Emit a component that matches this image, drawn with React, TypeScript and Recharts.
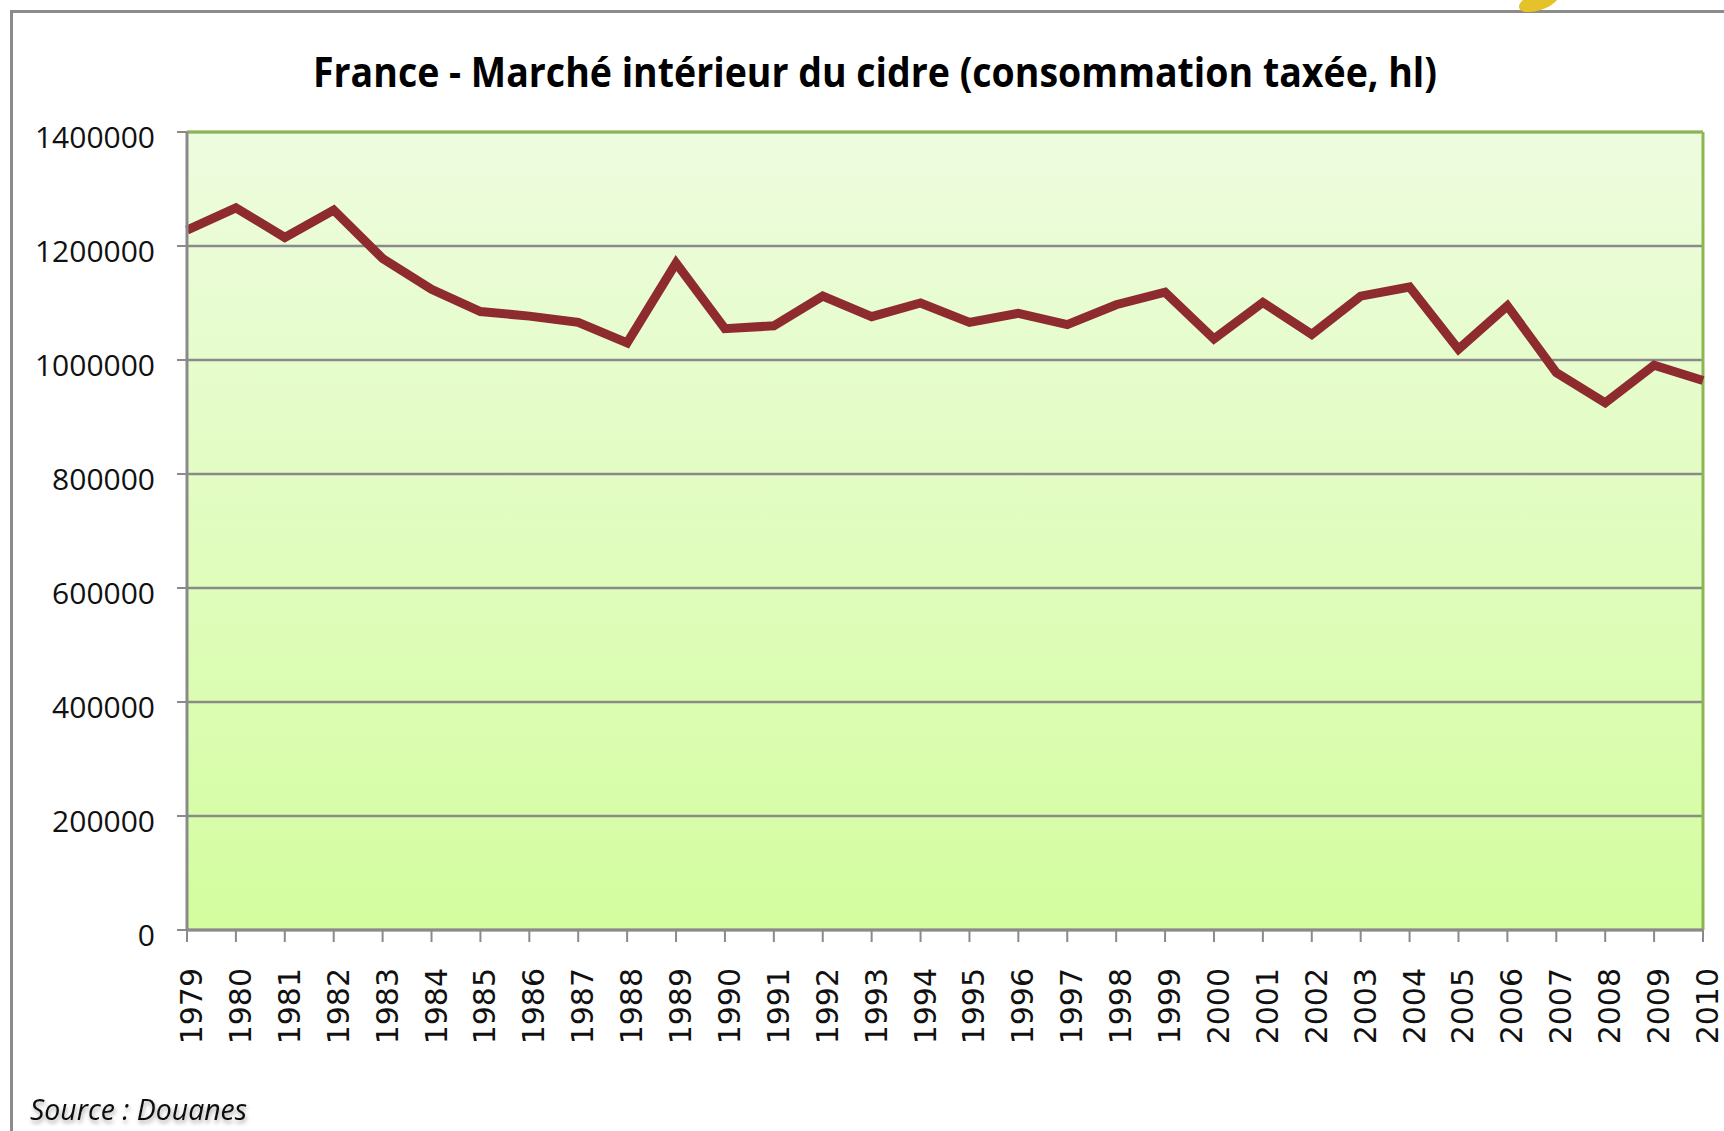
import React from 'react'
import { LineChart, Line, XAxis, YAxis, CartesianGrid, ReferenceLine } from 'recharts'

const YEARS = [
  '1979', '1980', '1981', '1982', '1983', '1984', '1985', '1986', '1987', '1988', '1989',
  '1990', '1991', '1992', '1993', '1994', '1995', '1996', '1997', '1998', '1999', '2000',
  '2001', '2002', '2003', '2004', '2005', '2006', '2007', '2008', '2009', '2010',
]

// consommation taxée, hl
const VOLUMES = [
  1228000, 1267000, 1215000, 1263000, 1178000, 1124000, 1085000, 1077000, 1066000, 1030000, 1170000,
  1055000, 1060000, 1112000, 1076000, 1100000, 1066000, 1082000, 1062000, 1097000, 1119000, 1037000,
  1101000, 1045000, 1112000, 1128000, 1019000, 1095000, 978000, 925000, 991000, 964000,
]

const Y_TICKS = [0, 200000, 400000, 600000, 800000, 1000000, 1200000, 1400000]

const TITLE = 'France - Marché intérieur du cidre (consommation taxée, hl)'
const SOURCE = 'Source : Douanes'

const data = YEARS.map((year, i) => ({ year, value: VOLUMES[i] }))

const GRID = '#8a8a8a'
const GREEN = '#8db552'

const YTick = (props: any) => {
  const { x, y, payload } = props
  return (
    <text x={x} y={y} dy={4} textAnchor="end" dominantBaseline="central"
      fontFamily="'Open Sans', sans-serif" fontSize={30} fill="#111">
      {payload.value}
    </text>
  )
}

const XTick = (props: any) => {
  const { x, y, payload } = props
  return (
    <text x={x} y={y} dy={15} transform={`rotate(-90, ${x}, ${y})`} textAnchor="end"
      fontFamily="'DejaVu Sans', sans-serif" fontSize={30} fill="#111">
      {payload.value}
    </text>
  )
}

export default function App() {
  return (
    <div style={{ position: 'absolute', left: 0, top: 0, width: 1724, height: 1131, background: '#fff', overflow: 'hidden' }}>
      {/* frame of the slide */}
      <div style={{ position: 'absolute', left: 10, top: 10, width: 2000, height: 2000, border: '3px solid #8b8b8b' }} />
      <div style={{ position: 'absolute', left: 1518, top: -8, width: 42, height: 18, borderRadius: '50%', background: '#e6c22a', transform: 'rotate(-20deg)' }} />

      <svg width={1724} height={130} style={{ position: 'absolute', left: 0, top: 0 }}>
        <text x={313} y={87} textLength={1124} lengthAdjust="spacingAndGlyphs"
          fontFamily="'Open Sans', sans-serif" fontWeight={700} fontSize={41} fill="#000">
          {TITLE}
        </text>
      </svg>

      <div style={{ position: 'absolute', left: 0, top: 0 }}>
        <LineChart width={1724} height={1131} data={data}
          margin={{ top: 132, right: 21, left: 37, bottom: 81 }}>
          <defs>
            <linearGradient id="plotBg" x1="0" y1="0" x2="0" y2="1">
              <stop offset="0%" stopColor="#eefcdf" />
              <stop offset="100%" stopColor="#d3fd9f" />
            </linearGradient>
          </defs>
          <CartesianGrid vertical={false} stroke={GRID} strokeWidth={2.5} fill="url(#plotBg)" fillOpacity={1} />
          <XAxis dataKey="year" interval={0} height={120} tickSize={12} tickMargin={26}
            axisLine={{ stroke: GRID, strokeWidth: 3 }} tickLine={{ stroke: GRID, strokeWidth: 2 }}
            tick={<XTick />} />
          <YAxis domain={[0, 1400000]} ticks={Y_TICKS} width={150} tickSize={10} tickMargin={22}
            axisLine={{ stroke: GRID, strokeWidth: 3 }} tickLine={{ stroke: GRID, strokeWidth: 2 }}
            tick={<YTick />} />
          <ReferenceLine y={1400000} stroke={GREEN} strokeWidth={3} />
          <ReferenceLine x="2010" stroke={GREEN} strokeWidth={3} />
          <Line type="linear" dataKey="value" stroke="#8e2b2e" strokeWidth={9} dot={false}
            isAnimationActive={false} />
        </LineChart>
      </div>

      <svg width={400} height={51} style={{ position: 'absolute', left: 0, top: 1080 }}>
        <defs>
          <filter id="srcShadow" x="-10%" y="-30%" width="120%" height="180%">
            <feDropShadow dx={1} dy={3} stdDeviation={2} floodColor="#000" floodOpacity={0.35} />
          </filter>
        </defs>
        <text x={30} y={40} textLength={217} lengthAdjust="spacingAndGlyphs" filter="url(#srcShadow)"
          fontFamily="'Open Sans', sans-serif" fontStyle="italic" fontSize={30} fill="#111">
          {SOURCE}
        </text>
      </svg>
    </div>
  )
}
